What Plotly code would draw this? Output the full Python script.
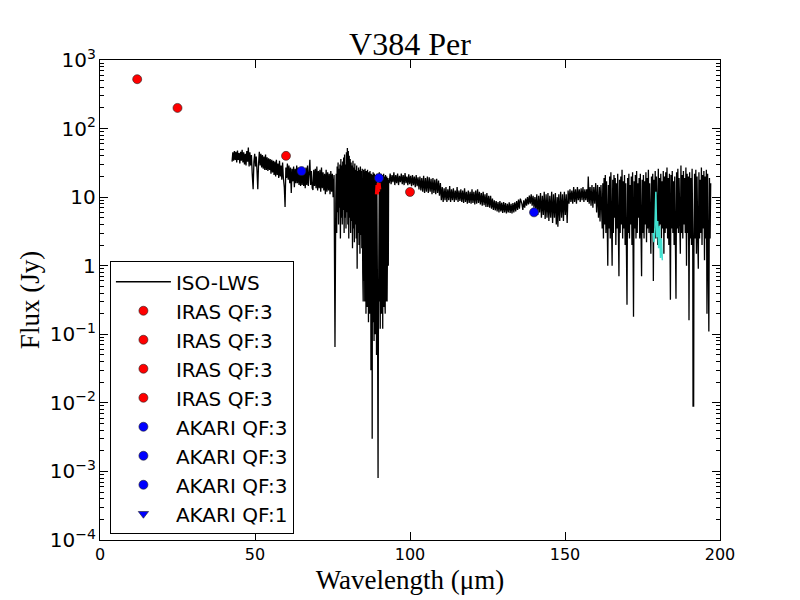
import plotly.graph_objects as go

# ISO-LWS spectrum (wavelength in um, flux in Jy)
iso_lws = [
    # 43 - 76 um
    (42.6, 33), (42.85, 45), (43.1, 34), (43.35, 47), (43.6, 35), (43.85, 46), (44.1, 32), (44.35, 48),
    (44.6, 35), (44.85, 44), (45.1, 31), (45.35, 46), (45.6, 34), (45.85, 49), (46.1, 32), (46.35, 45),
    (46.6, 30), (46.85, 43), (47.1, 29), (47.35, 47), (47.6, 33), (47.85, 53), (48.1, 28), (48.35, 45),
    (48.6, 29), (48.85, 41), (49.1, 22), (49.4, 13), (49.65, 33), (49.9, 43), (50.15, 28), (50.4, 39),
    (50.65, 24), (50.9, 13), (51.15, 31), (51.4, 46), (51.65, 29), (51.9, 43), (52.15, 27), (52.4, 41),
    (52.65, 26), (52.9, 39), (53.15, 25), (53.4, 42), (53.65, 25), (53.9, 38), (54.15, 24), (54.4, 37),
    (54.65, 25), (54.9, 36), (55.15, 22), (55.4, 35), (55.65, 23), (55.9, 34), (56.15, 21), (56.4, 33),
    (56.65, 20), (56.9, 35), (57.15, 21), (57.4, 31), (57.65, 19), (57.9, 34), (58.15, 20), (58.4, 29),
    (58.65, 18), (58.9, 32), (59.15, 19), (59.45, 14), (59.7, 7.2), (59.95, 27), (60.2, 19), (60.45, 31),
    (60.7, 18), (60.95, 29), (61.2, 16), (61.45, 27), (61.7, 11.5), (61.95, 26), (62.2, 17), (62.45, 28),
    (62.7, 14), (62.95, 26), (63.2, 16), (63.45, 29), (63.7, 16), (63.95, 27), (64.2, 15), (64.45, 26),
    (64.7, 14.5), (64.95, 25), (65.2, 15), (65.45, 26), (65.7, 14.5), (65.95, 24), (66.2, 13.5), (66.45, 27),
    (66.7, 15), (66.95, 29), (67.2, 14.5), (67.45, 25), (67.7, 35), (67.95, 15), (68.2, 24), (68.45, 13.5),
    (68.7, 12.7), (68.95, 25), (69.2, 14.5), (69.45, 26), (69.7, 13.5), (69.95, 28), (70.2, 12.5), (70.45, 24),
    (70.7, 13.5), (70.95, 25), (71.2, 12), (71.45, 27), (71.7, 13.5), (71.95, 23), (72.2, 12.5), (72.45, 22),
    (72.7, 11), (72.95, 25), (73.2, 12), (73.45, 23), (73.7, 12.5), (73.95, 22), (74.2, 11), (74.45, 24),
    (74.7, 12), (74.95, 22), (75.2, 10), (75.5, 21), (75.8, 0.065), (76.05, 8),
    # 76 - 85 um
    (76.2, 22), (76.35, 3), (76.5, 28), (76.65, 6), (76.8, 32), (76.95, 4), (77.1, 26), (77.25, 7),
    (77.4, 30), (77.55, 2.5), (77.7, 36), (77.85, 5), (78.0, 29), (78.15, 4), (78.3, 33), (78.45, 6.5),
    (78.6, 38), (78.75, 3), (78.9, 42), (79.05, 5), (79.2, 30), (79.35, 3.5), (79.5, 45), (79.65, 6),
    (79.8, 52), (79.95, 4), (80.1, 47), (80.25, 2.5), (80.4, 40), (80.55, 5), (80.7, 36), (80.85, 3),
    (81.0, 32), (81.15, 4.5), (81.3, 29), (81.45, 1.8), (81.6, 34), (81.75, 3.5), (81.9, 27), (82.05, 2.2),
    (82.2, 31), (82.35, 4), (82.5, 25), (82.65, 2.5), (82.8, 29), (82.95, 0.9), (83.1, 24), (83.25, 3),
    (83.4, 27), (83.55, 2), (83.7, 25), (83.85, 1.5), (84.0, 28), (84.15, 2.8), (84.3, 24), (84.45, 1.8),
    (84.6, 26), (84.75, 0.8), (84.9, 0.3), (85.05, 25),
    # 85 - 93 um
    (85.2, 0.6), (85.3, 23), (85.4, 0.3), (85.5, 26), (85.6, 0.5), (85.7, 21), (85.8, 0.2), (85.9, 24),
    (86.0, 0.35), (86.1, 22), (86.2, 0.25), (86.3, 25), (86.4, 0.4), (86.5, 20), (86.6, 0.15), (86.7, 23),
    (86.8, 0.3), (86.9, 21), (87.0, 0.2), (87.1, 24), (87.2, 0.5), (87.3, 19), (87.4, 0.03), (87.5, 22),
    (87.6, 0.2), (87.7, 20), (87.8, 0.003), (87.9, 21), (88.0, 0.25), (88.1, 23), (88.2, 0.15), (88.3, 20),
    (88.4, 0.08), (88.5, 22), (88.6, 0.3), (88.7, 19), (88.8, 0.1), (88.9, 21), (89.0, 0.2), (89.1, 20),
    (89.2, 0.05), (89.3, 22), (89.5, 0.4), (89.7, 0.0008), (89.8, 0.1), (89.9, 20), (90.0, 0.15), (90.1, 23),
    (90.2, 0.3), (90.3, 21), (90.4, 0.12), (90.5, 19), (90.6, 0.35), (90.7, 22), (90.8, 0.2), (90.9, 20),
    (91.0, 0.3), (91.1, 21), (91.2, 0.12), (91.3, 19), (91.4, 0.4), (91.5, 22), (91.6, 0.25), (91.7, 20),
    (91.8, 0.45), (91.9, 18), (92.0, 0.2), (92.1, 21), (92.2, 0.3), (92.3, 19), (92.4, 0.5), (92.5, 20),
    (92.6, 0.3), (92.7, 18), (92.8, 0.6), (92.9, 19), (93.0, 1.0), (93.1, 18),
    # 93 - 136 um
    (93.3, 16), (93.6, 22), (93.9, 15.5), (94.2, 21), (94.5, 16.5), (94.8, 23), (95.1, 15), (95.4, 21),
    (95.7, 16), (96.0, 22), (96.3, 15), (96.6, 20.5), (96.9, 16.5), (97.2, 22), (97.5, 15.5), (97.8, 21),
    (98.1, 15), (98.4, 22.5), (98.7, 16), (99.0, 20), (99.3, 15), (99.6, 21.5), (99.9, 15.5), (100.2, 20.5),
    (100.5, 14.5), (100.8, 21), (101.1, 15), (101.4, 20), (101.7, 14), (102.0, 21), (102.3, 14.5), (102.6, 19.5),
    (102.9, 13), (103.2, 20), (103.5, 12.5), (103.8, 19), (104.1, 12), (104.4, 20.5), (104.7, 11.5), (105.0, 19),
    (105.3, 12), (105.6, 20), (105.9, 11.5), (106.2, 19.5), (106.5, 12), (106.8, 18.5), (107.1, 11), (107.4, 19),
    (107.7, 11.5), (108.0, 18), (108.3, 11), (108.6, 18.5), (108.9, 11.5), (109.2, 17.5), (109.5, 10.5), (109.8, 16),
    (110.1, 9), (110.4, 14), (110.7, 8.5), (111.0, 13.5), (111.3, 9), (111.6, 14), (111.9, 8.5), (112.2, 13),
    (112.5, 9), (112.8, 14.5), (113.1, 8.5), (113.4, 13), (113.7, 9), (114.0, 13.5), (114.3, 8.5), (114.6, 12.5),
    (114.9, 9), (115.2, 14), (115.5, 8.5), (115.8, 12.5), (116.1, 8.8), (116.4, 13), (116.7, 8.5), (117.0, 12.5),
    (117.3, 8.2), (117.6, 13.5), (117.9, 8.5), (118.2, 12), (118.5, 8), (118.8, 12.5), (119.1, 8.2), (119.4, 12),
    (119.7, 8), (120.0, 13), (120.3, 8.2), (120.6, 12), (120.9, 7.8), (121.2, 12.5), (121.5, 8), (121.8, 13),
    (122.1, 8.2), (122.4, 12), (122.7, 7.8), (123.0, 11.5), (123.3, 7.5), (123.6, 12), (123.9, 7.6), (124.2, 11),
    (124.5, 7.2), (124.8, 11.5), (125.1, 7.2), (125.4, 10.5), (125.7, 7), (126.0, 10.5), (126.3, 6.8), (126.6, 9.5),
    (126.9, 6.5), (127.2, 9), (127.5, 6.4), (127.8, 8.8), (128.1, 6.2), (128.4, 8.5), (128.7, 6), (129.0, 8.8),
    (129.3, 6.2), (129.6, 8.3), (129.9, 5.9), (130.2, 8.5), (130.5, 6), (130.8, 8.2), (131.1, 5.8), (131.4, 8),
    (131.7, 6), (132.0, 8.4), (132.3, 5.9), (132.6, 8), (132.9, 5.8), (133.2, 8.2), (133.5, 6), (133.8, 8.4),
    (134.1, 6.2), (134.4, 8.8), (134.7, 6.5), (135.0, 9.2), (135.3, 6.8), (135.6, 9.5),
    # 136 - 162 um
    (136.1, 8), (136.4, 6.5), (136.7, 9), (137.0, 7), (137.3, 9.5), (137.6, 7.5), (137.9, 10), (138.2, 7.8),
    (138.5, 10.5), (138.8, 8), (139.1, 11), (139.4, 7.5), (139.7, 10.5), (140.0, 7), (140.3, 10), (140.6, 6.5),
    (140.9, 11), (141.2, 5.5), (141.5, 10.5), (141.8, 6), (142.1, 11.5), (142.4, 5), (142.7, 10.5), (143.0, 5.5),
    (143.3, 12), (143.6, 4.8), (143.9, 11), (144.2, 5), (144.5, 11.5), (144.8, 4.5), (145.1, 10.5), (145.4, 5),
    (145.7, 12), (146.0, 4.2), (146.3, 11), (146.6, 5), (146.9, 11.5), (147.2, 4), (147.5, 10), (147.7, 3.7),
    (148.0, 11), (148.3, 4.5), (148.6, 12), (148.9, 5), (149.2, 11), (149.5, 4.5), (149.8, 12), (150.1, 5.5),
    (150.4, 11), (150.7, 4.2), (151.0, 12.5), (151.3, 8), (151.6, 13), (151.9, 8.5), (152.2, 12.5), (152.5, 8),
    (152.8, 14), (153.1, 8.5), (153.4, 13), (153.7, 8), (154.0, 14), (154.3, 9), (154.6, 13), (154.9, 8.5),
    (155.2, 13.5), (155.5, 9), (155.8, 14), (156.1, 8.5), (156.4, 13), (156.7, 9), (157.0, 13), (157.3, 8.5),
    (157.5, 20), (157.8, 8), (158.1, 14), (158.4, 7.5), (158.7, 15), (159.0, 7), (159.3, 14), (159.6, 8),
    (159.9, 16), (160.2, 6), (160.5, 15), (160.8, 5), (161.1, 14), (161.3, 4.4), (161.6, 15),
    # 162 - 197 um
    (162.0, 3.5), (162.2, 16), (162.4, 2.5), (162.6, 19), (162.8, 4), (163.0, 21), (163.2, 3), (163.4, 17),
    (163.6, 5), (163.8, 1.0), (164.0, 15), (164.2, 3.5), (164.4, 20), (164.6, 2.5), (164.8, 23), (165.0, 4),
    (165.2, 1.0), (165.4, 18), (165.6, 3), (165.8, 21), (166.0, 5), (166.2, 19), (166.4, 2), (166.6, 16),
    (166.8, 3.5), (167.0, 22), (167.2, 2.5), (167.4, 0.7), (167.6, 18), (167.8, 3), (168.0, 20), (168.2, 4),
    (168.4, 25), (168.6, 2.5), (168.8, 17), (169.0, 3.5), (169.2, 21), (169.4, 2), (169.6, 16), (169.8, 4),
    (170.0, 0.27), (170.2, 19), (170.4, 3), (170.6, 22), (170.8, 2.5), (171.0, 15), (171.2, 4), (171.4, 20),
    (171.6, 2), (171.8, 23), (172.0, 3), (172.1, 0.18), (172.3, 17), (172.5, 3.5), (172.7, 21), (172.9, 2.5),
    (173.1, 24), (173.3, 3), (173.5, 16), (173.7, 5), (173.9, 19), (174.1, 2.5), (174.3, 22), (174.5, 4),
    (174.7, 0.7), (174.9, 18), (175.1, 3), (175.3, 21), (175.5, 2.5), (175.7, 17), (175.9, 4), (176.1, 23),
    (176.3, 2.2), (176.5, 19), (176.7, 3.5), (176.9, 25), (177.1, 3), (177.3, 16), (177.5, 2.5), (177.7, 1.5),
    (177.9, 20), (178.1, 3), (178.3, 22), (178.5, 0.6), (178.7, 18), (178.9, 3.5), (179.1, 24), (179.3, 2.5),
    (179.5, 20), (179.7, 4), (179.9, 2), (180.1, 26), (180.3, 3), (180.5, 19), (180.7, 4), (180.9, 22),
    (181.1, 2.5), (181.3, 17), (181.5, 3.5), (181.7, 24), (181.9, 1.5), (182.1, 20), (182.3, 3), (182.5, 23),
    (182.7, 3.5), (182.9, 27), (183.1, 2.5), (183.3, 19), (183.5, 2), (183.7, 22), (183.9, 3), (184.0, 0.32),
    (184.2, 21), (184.4, 3.5), (184.6, 24), (184.8, 3), (185.0, 17), (185.2, 2), (185.4, 20), (185.6, 2.5),
    (185.8, 0.33), (186.0, 23), (186.2, 3.5), (186.4, 26), (186.6, 3), (186.8, 19), (187.0, 2.5), (187.2, 1.5),
    (187.4, 29), (187.6, 3), (187.8, 21), (188.0, 2.5), (188.2, 24), (188.4, 4), (188.6, 19), (188.8, 3),
    (189.0, 27), (189.2, 1.0), (189.4, 22), (189.6, 3), (189.8, 20), (190.0, 0.16), (190.2, 23), (190.4, 2.5),
    (190.6, 19), (190.8, 2), (191.0, 26), (191.2, 3), (191.3, 0.009), (191.5, 0.009), (191.6, 2), (191.8, 22),
    (192.0, 2.5), (192.2, 25), (192.4, 1.5), (192.6, 20), (192.8, 3), (193.0, 0.9), (193.2, 23), (193.4, 2.5),
    (193.6, 18), (193.8, 3), (194.0, 27), (194.2, 2), (194.4, 21), (194.6, 3.5), (194.8, 24), (195.0, 1.2),
    (195.2, 20), (195.4, 2.5), (195.6, 25), (195.8, 0.2), (196.0, 22), (196.2, 3), (196.4, 0.11), (196.6, 19),
    (196.8, 2.5), (197.0, 16),
]
iso_wave = [p[0] for p in iso_lws]
iso_flux = [p[1] for p in iso_lws]

# short coloured pieces of the spectrum (no legend entry)
red_wave = [89.3, 89.5, 89.7, 89.9, 90.1]
red_flux = [11, 15, 12, 16, 13]
cyan_wave = [178.4, 178.7, 179.0, 179.3, 179.6, 179.9, 180.2, 180.5, 180.8, 181.1, 181.4]
cyan_flux = [3.0, 2.2, 3.5, 12, 2.6, 4.5, 1.8, 3.8, 1.3, 2.5, 1.2]

# photometry
iras_wave = [12, 25, 60, 100]
iras_flux = [525, 200, 40, 11.9]
akari_wave = [65, 90, 140]
akari_flux = [24, 19, 6.0]
akari_qf1_wave = [160]
akari_qf1_flux = [None]

serif = "Liberation Serif"
sans = "DejaVu Sans"
edge = {'color': '#222', 'width': 0.6}

fig = go.Figure()
fig.add_trace(go.Scatter(x=iso_wave, y=iso_flux, mode='lines', name='ISO-LWS', legendgroup='g0',
                         line={'color': 'black', 'width': 1.3}))
fig.add_trace(go.Scatter(x=red_wave, y=red_flux, mode='lines', showlegend=False,
                         line={'color': 'red', 'width': 4}))
fig.add_trace(go.Scatter(x=cyan_wave, y=cyan_flux, mode='lines', showlegend=False,
                         line={'color': '#40e0d0', 'width': 1.5}))

n = 1
for w, f in zip(iras_wave, iras_flux):
    fig.add_trace(go.Scatter(x=[w], y=[f], mode='markers', name='IRAS QF:3', legendgroup='g%d' % n,
                             marker={'color': 'red', 'size': 9, 'line': edge}))
    n += 1
for w, f in zip(akari_wave, akari_flux):
    fig.add_trace(go.Scatter(x=[w], y=[f], mode='markers', name='AKARI QF:3', legendgroup='g%d' % n,
                             marker={'color': 'blue', 'size': 9, 'line': edge}))
    n += 1
fig.add_trace(go.Scatter(x=akari_qf1_wave, y=akari_qf1_flux, mode='markers', name='AKARI QF:1',
                         legendgroup='g%d' % n, showlegend=True,
                         marker={'color': 'blue', 'size': 9, 'symbol': 'triangle-down', 'line': edge}))

fig.update_layout(
    width=800, height=600,
    # page body adds 8px, so margins are shifted to keep the plot box at 100..720 / 60..540
    margin=dict(l=92, r=88, t=52, b=68),
    paper_bgcolor='white', plot_bgcolor='white',
    title=dict(text='V384 Per', x=0.5025, xanchor='center', y=0.94, yanchor='middle',
               font=dict(family=serif, size=32, color='black')),
    font=dict(family=sans, size=16, color='black'),
    legend=dict(x=0.016, y=0.012, xanchor='left', yanchor='bottom',
                bordercolor='black', borderwidth=1, bgcolor='white', itemwidth=55,
                font=dict(family=sans, size=20), tracegroupgap=0),
    showlegend=True,
)

fig.update_xaxes(
    range=[0, 200], dtick=50, ticks='inside', ticklen=8, tickcolor='black',
    showline=True, linewidth=1, linecolor='black', mirror='ticks', showgrid=False, zeroline=False,
    title=dict(text='Wavelength (μm)', font=dict(family=serif, size=27), standoff=6),
    tickfont=dict(family=sans, size=16),
)
fig.update_yaxes(
    type='log', range=[-4, 3], dtick=1, exponentformat='power', ticks='inside', ticklen=8,
    tickcolor='black', showline=True, linewidth=1, linecolor='black', mirror='ticks',
    showgrid=False, zeroline=False,
    minor=dict(ticks='inside', ticklen=4, tickcolor='black', showgrid=False),
    title=dict(text='Flux (Jy)', font=dict(family=serif, size=27), standoff=2),
    tickfont=dict(family=sans, size=16),
)

fig.write_html("out.html")
